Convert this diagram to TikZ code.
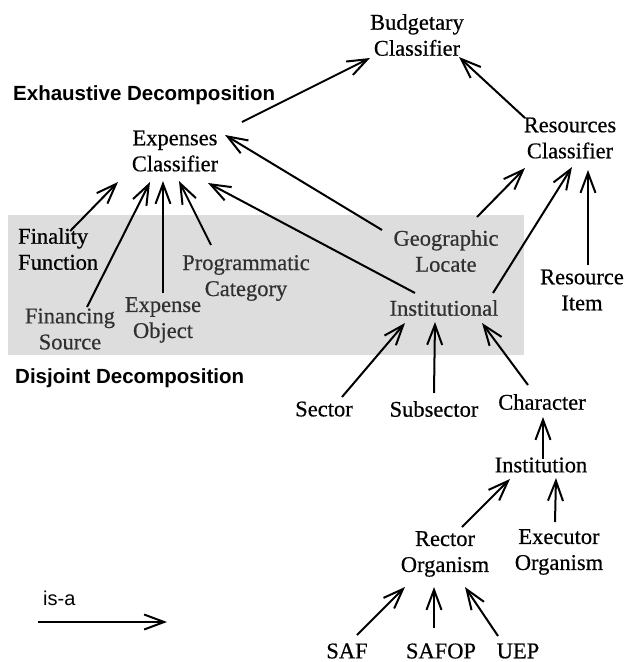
\documentclass[tikz,border=0pt]{standalone}
\usepackage{fontspec}
\setmainfont{Liberation Serif}[FakeBold=0.5]
\newfontfamily\arialfont{Liberation Sans}
\usetikzlibrary{arrows.meta}
\definecolor{boxgray}{RGB}{221,221,221}
\definecolor{darktext}{RGB}{48,48,48}
\begin{document}
\begin{tikzpicture}[x=1pt,y=-1pt,
  lbl/.style={font=\fontsize{22.5}{26}\selectfont, align=center, inner sep=0pt, text=black},
  glbl/.style={lbl, text=darktext},
  head/.style={font=\arialfont\bfseries\fontsize{20.5}{24}\selectfont, inner sep=0pt, anchor=west},
  isa/.style={line width=2pt, -{Straight Barb[length=20pt,width=15pt]}},
]
\useasboundingbox (0,0) rectangle (626,662);
\fill[boxgray] (8,215) rectangle (524,355);

\node[head] (exh) at (13,95) {Exhaustive Decomposition};
\node[head] (dis) at (15,378) {Disjoint Decomposition};

\node[lbl] (bud) at (417,35) {Budgetary\\Classifier};
\node[lbl] (exp) at (175,151) {Expenses\\Classifier};
\node[lbl] (res) at (570,138) {Resources\\Classifier};
\node[lbl, align=left, anchor=west] (fin) at (18,249) {Finality\\Function};
\node[glbl] (fsrc) at (70,329) {Financing\\Source};
\node[glbl] (eobj) at (163,320) {Expense\\Object};
\node[glbl] (prog) at (246,278) {Programmatic\\Category};
\node[glbl] (geo) at (446,251) {Geographic\\Locate};
\node[glbl] (inst) at (444,308) {Institutional};
\node[lbl] (ritem) at (582,290) {Resource\\Item};
\node[lbl] (sector) at (324,409) {Sector};
\node[lbl] (subsector) at (434,409) {Subsector};
\node[lbl] (char) at (542,402) {Character};
\node[lbl] (instn) at (541,465) {Institution};
\node[lbl] (rector) at (445,554) {Rector\\Organism};
\node[lbl] (exec) at (559,552) {Executor\\Organism};
\node[lbl] (saf) at (347,651) {SAF};
\node[lbl] (safop) at (441,651) {SAFOP};
\node[lbl] (uep) at (518,651) {UEP};

\draw[isa] ([shift={(67,-29)}]exp.center) -- ([shift={(-47,23)}]bud.center);
\draw[isa] ([shift={(-45,-20)}]res.center) -- ([shift={(42,22)}]bud.center);
\draw[isa] ([shift={(-64,-21)}]geo.center) -- ([shift={(50,-16)}]exp.center);
\draw[isa] ([shift={(-29,-15)}]inst.center) -- ([shift={(33,32)}]exp.center);
\draw[isa] ([shift={(12,-18)}]fin.center) -- ([shift={(-57,31)}]exp.center);
\draw[isa] ([shift={(17,-22)}]fsrc.center) -- ([shift={(-25,31)}]exp.center);
\draw[isa] ([shift={(0,-27)}]eobj.center) -- ([shift={(-12,30)}]exp.center);
\draw[isa] ([shift={(-35,-33)}]prog.center) -- ([shift={(4,30)}]exp.center);
\draw[isa] ([shift={(31,-34)}]geo.center) -- ([shift={(-45,30)}]res.center);
\draw[isa] ([shift={(49,-15)}]inst.center) -- ([shift={(2,29)}]res.center);
\draw[isa] ([shift={(6,-25)}]ritem.center) -- ([shift={(18,32)}]res.center);
\draw[isa] ([shift={(18,-12)}]sector.center) -- ([shift={(-39,15)}]inst.center);
\draw[isa] ([shift={(0,-16)}]subsector.center) -- ([shift={(-9,14)}]inst.center);
\draw[isa] ([shift={(-14,-17)}]char.center) -- ([shift={(38,15)}]inst.center);
\draw[isa] ([shift={(2,-6)}]instn.center) -- ([shift={(1,15)}]char.center);
\draw[isa] ([shift={(-4,-30)}]exec.center) -- ([shift={(15,13)}]instn.center);
\draw[isa] ([shift={(17,-27)}]rector.center) -- ([shift={(-31,14)}]instn.center);
\draw[isa] ([shift={(10,-16)}]saf.center) -- ([shift={(-40,33)}]rector.center);
\draw[isa] ([shift={(-7,-23)}]safop.center) -- ([shift={(-11,33)}]rector.center);
\draw[isa] ([shift={(-20,-15)}]uep.center) -- ([shift={(20,33)}]rector.center);

\node[font=\arialfont\fontsize{20}{24}\selectfont, inner sep=0pt, anchor=west] (isalbl) at (43,598) {is-a};
\coordinate (isa1) at (38,622);
\coordinate (isa2) at (167,622);
\draw[isa] (isa1) -- (isa2);
\end{tikzpicture}
\end{document}
